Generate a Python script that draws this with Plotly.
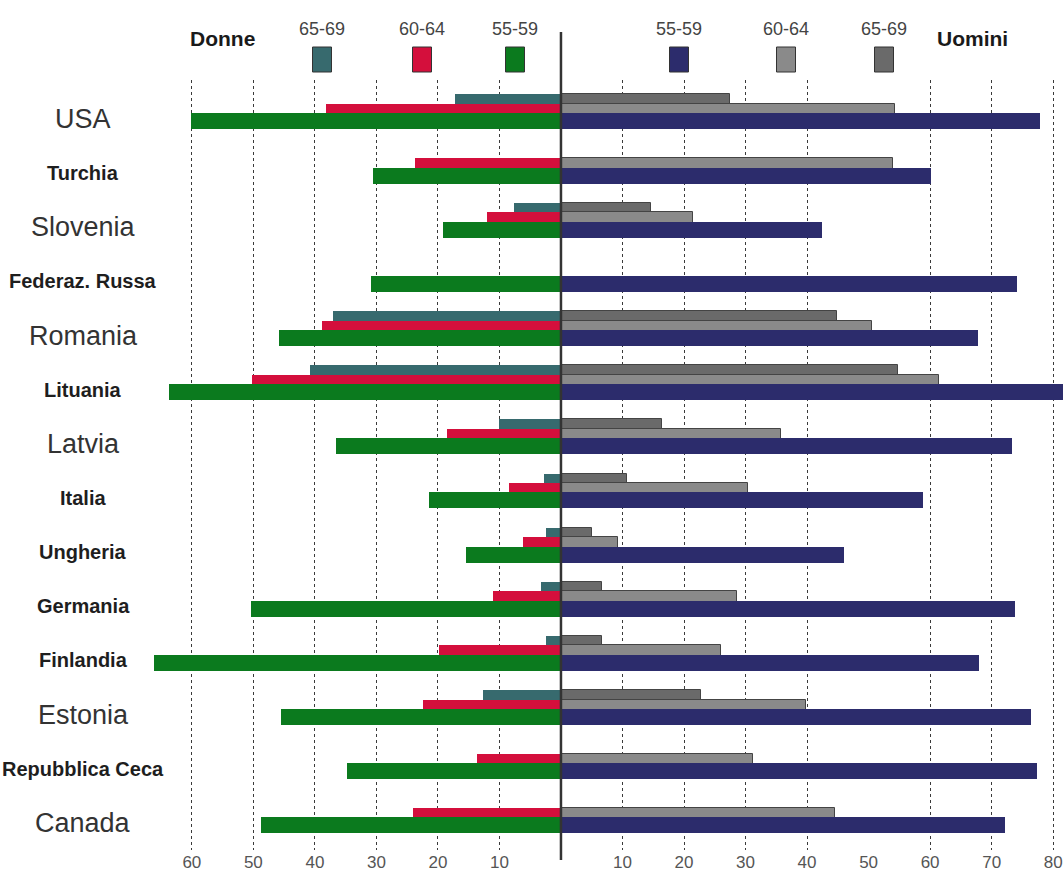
import plotly.graph_objects as go

# Countries, top to bottom
countries = [
    "USA", "Turchia", "Slovenia", "Federaz. Russa", "Romania", "Lituania",
    "Latvia", "Italia", "Ungheria", "Germania", "Finlandia", "Estonia",
    "Repubblica Ceca", "Canada",
]

# Donne (women) by age band
women_55_59 = [60.2, 30.6, 19.1, 30.8, 45.8, 63.7, 36.5, 21.5, 15.4, 50.4, 66.1, 45.5, 34.8, 48.8]
women_60_64 = [38.2, 23.8, 12.1, None, 38.8, 50.3, 18.5, 8.5, 6.1, 11.0, 19.8, 22.4, 13.7, 24.1]
women_65_69 = [17.3, None, 7.7, None, 37.0, 40.8, 10.1, 2.7, 2.4, 3.3, 2.4, 12.6, None, None]

# Uomini (men) by age band
men_55_59 = [77.9, 60.1, 42.5, 74.1, 67.8, 83.0, 73.3, 58.8, 46.0, 73.8, 68.0, 76.4, 77.3, 72.1]
men_60_64 = [54.3, 54.0, 21.4, None, 50.6, 61.4, 35.8, 30.4, 9.2, 28.6, 26.0, 39.8, 31.2, 44.6]
men_65_69 = [27.5, None, 14.7, None, 44.8, 54.7, 16.5, 10.7, 5.1, 6.6, 6.6, 22.8, None, None]

# Axis ticks: women to the left of zero, men to the right
tick_vals = [-60, -50, -40, -30, -20, -10, 10, 20, 30, 40, 50, 60, 70, 80]
tick_text = [str(abs(v)) for v in tick_vals]
grid_vals = [-60, -50, -40, -30, -20, -10, 10, 20, 30, 40, 60, 70, 80]

# Labels shown in bold type
BOLD_LABELS = {"Turchia", "Federaz. Russa", "Lituania", "Italia", "Ungheria",
               "Germania", "Finlandia", "Repubblica Ceca"}

W, H = 1063, 883
ML, MR, MT, MB = 150, 0, 80, 33
PW, PH = W - ML - MR, H - MT - MB


def px_x(px):
    return (px - ML) / PW


def px_y(py):
    return (H - MB - py) / PH


C_W_5559, C_W_6064, C_W_6569 = "#0b7a1e", "#d40f3c", "#376a6e"
C_M_5559, C_M_6064, C_M_6569 = "#2c2c6c", "#8a8a8a", "#6a6a6a"

BAR_W = 0.295
STEP = 0.175

fig = go.Figure()

# back to front: 65-69 (top of each group), 60-64, 55-59 (bottom)
series = [
    (women_65_69, men_65_69, C_W_6569, C_M_6569, -STEP, "65-69"),
    (women_60_64, men_60_64, C_W_6064, C_M_6064, 0.0, "60-64"),
    (women_55_59, men_55_59, C_W_5559, C_M_5559, STEP, "55-59"),
]
for w_vals, m_vals, c_w, c_m, shift, name in series:
    fig.add_trace(go.Bar(
        y=countries, x=[-v if v is not None else None for v in w_vals],
        orientation="h", width=BAR_W, offset=shift - BAR_W / 2,
        marker=dict(color=c_w, opacity=1, line=dict(width=0)),
        name="Donne " + name, showlegend=False,
    ))
    gray = c_m != C_M_5559
    fig.add_trace(go.Bar(
        y=countries, x=m_vals,
        orientation="h", width=BAR_W, offset=shift - BAR_W / 2,
        marker=dict(color=c_m, opacity=1,
                    line=dict(width=1 if gray else 0, color="#444444")),
        name="Uomini " + name, showlegend=False,
    ))

SANS = "Liberation Sans, Arial, sans-serif"

annotations = []
for c in countries:
    bold = c in BOLD_LABELS
    annotations.append(dict(
        x=px_x(83), xref="paper", y=c, yref="y", yshift=-7,
        text=f"<b>{c}</b>" if bold else c,
        showarrow=False, xanchor="center", yanchor="middle",
        font=dict(family=SANS, size=20 if bold else 27,
                  color="#1e1e1e" if bold else "#333333"),
    ))

# legend
legend_items = [
    ("65-69", C_W_6569, 322), ("60-64", C_W_6064, 422), ("55-59", C_W_5559, 515),
    ("55-59", C_M_5559, 679), ("60-64", C_M_6064, 786), ("65-69", C_M_6569, 884),
]
shapes = []
for label, color, cx in legend_items:
    shapes.append(dict(
        type="rect", xref="paper", yref="paper",
        x0=px_x(cx - 9.5), x1=px_x(cx + 9.5), y0=px_y(72), y1=px_y(47),
        fillcolor=color, line=dict(color="#333333", width=1), layer="above",
    ))
    annotations.append(dict(
        x=px_x(cx), y=px_y(29), xref="paper", yref="paper", text=label,
        showarrow=False, xanchor="center", yanchor="middle",
        font=dict(family=SANS, size=18, color="#444444"),
    ))
for label, cx in (("Donne", 222), ("Uomini", 972)):
    annotations.append(dict(
        x=px_x(cx), y=px_y(39), xref="paper", yref="paper", text=f"<b>{label}</b>",
        showarrow=False, xanchor="center", yanchor="middle",
        font=dict(family=SANS, size=21, color="#1a1a1a"),
    ))

# centre divider between women and men
shapes.append(dict(
    type="line", xref="x", yref="paper", x0=0, x1=0, y0=px_y(860), y1=px_y(32),
    line=dict(color="#333333", width=2.5), layer="above",
))

fig.update_layout(
    width=W, height=H,
    margin=dict(l=ML, r=MR, t=MT, b=MB),
    paper_bgcolor="white", plot_bgcolor="white",
    barmode="overlay", bargap=0,
    showlegend=False,
    annotations=annotations, shapes=shapes,
    xaxis=dict(
        range=[-66.8, 81.6], tickmode="array", tickvals=tick_vals, ticktext=tick_text,
        showgrid=False, zeroline=False, showline=False, ticks="",
        ticklabeloverflow="allow",
        tickfont=dict(family=SANS, size=17, color="#555555"),
        minor=dict(tickmode="array", tickvals=grid_vals, showgrid=True,
                   gridcolor="#3a3a3a", griddash="dot", gridwidth=1, ticks=""),
        fixedrange=True,
    ),
    yaxis=dict(
        type="category", range=[13.63, -0.59],
        showticklabels=False, showgrid=False, zeroline=False, showline=False,
        ticks="", fixedrange=True,
    ),
)

fig.write_html("out.html")
